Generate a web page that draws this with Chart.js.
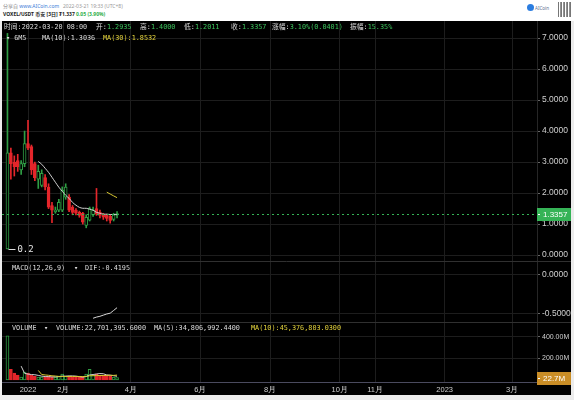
<!DOCTYPE html>
<html>
<head>
<meta charset="utf-8">
<script src="https://cdn.jsdelivr.net/npm/chart.js@4.4.1/dist/chart.umd.min.js"></script>
<style>
  body { margin: 0; width: 574px; height: 400px; background: #ececec; position: relative; overflow: hidden; }
  #head { position: absolute; left: 0; top: 0; width: 574px; height: 21px; background: #fff; font-family: "Noto Sans", "Noto Sans CJK SC", sans-serif; }
  #board { position: absolute; left: 2px; top: 21px; width: 569px; height: 374px; background: #000; }
  #board canvas { position: absolute; left: 0; }
  .lg { position: absolute; white-space: nowrap; font-family: "DejaVu Sans Mono", "Noto Sans CJK SC", monospace; font-size: 6.8px; line-height: 8px; color: #dcdcdc; }
  .g { color: #3cc35c; }
  .y { color: #e3d23c; }
  .hd { position: absolute; white-space: nowrap; font-size: 5px; line-height: 6px; color: #888; }
</style>
</head>
<body>
<div id="head">
  <div class="hd" style="left:3px;top:3px">分享自 <span style="color:#3b7bd8">www.AICoin.com</span></div>
  <div class="hd" style="left:63px;top:3px;color:#999">2022-03-21 19:33 (UTC+8)</div>
  <div class="hd" style="left:3px;top:11px;color:#222;font-weight:bold">VOXEL/USDT 币安 [3日] ₮1.337 <span style="color:#2fae4a">0.05 (3.90%)</span></div>
  <div style="position:absolute;left:527px;top:4px;width:7px;height:7px;border-radius:50%;background:#2b7de0"></div>
  <div class="hd" style="left:535px;top:5px;font-size:4.5px;color:#5a6f90">AICoin</div>
  <div style="position:absolute;left:558px;top:2px;width:13px;height:15px;background:repeating-linear-gradient(90deg,#555 0 1px,#fff 1px 2px,#777 2px 3px),#888;opacity:0.8"></div>
</div>
<div id="board">
  <canvas id="priceChart" width="569" height="240" style="top:0"></canvas>
  <canvas id="macdChart" width="569" height="61" style="top:240px"></canvas>
  <canvas id="volumeChart" width="569" height="73" style="top:301px"></canvas>

  <div class="lg" style="left:2px;top:2px">时间:2022-03-20 08:00</div>
  <div class="lg" style="left:94px;top:2px">开:<span class="g">1.2935</span></div>
  <div class="lg" style="left:138px;top:2px">高:<span class="g">1.4000</span></div>
  <div class="lg" style="left:182px;top:2px">低:<span class="g">1.2011</span></div>
  <div class="lg" style="left:229px;top:2px">收:<span class="g">1.3357</span></div>
  <div class="lg" style="left:270px;top:2px">涨幅:<span class="g">3.10%(0.0401)</span></div>
  <div class="lg" style="left:348px;top:2px">振幅:<span class="g">15.35%</span></div>

  <div class="lg" style="left:4px;top:13px">▾ 6M5</div>
  <div class="lg" style="left:40px;top:13px">MA(10):1.3036</div>
  <div class="lg y" style="left:101px;top:13px">MA(30):1.8532</div>

  <div class="lg" style="left:10px;top:243px">MACD(12,26,9)</div>
  <div class="lg" style="left:72px;top:243px">▾</div>
  <div class="lg" style="left:83px;top:243px">DIF:-0.4195</div>

  <div class="lg" style="left:10px;top:303px">VOLUME</div>
  <div class="lg" style="left:42px;top:303px">▾</div>
  <div class="lg" style="left:54px;top:303px">VOLUME:22,701,395.6000</div>
  <div class="lg" style="left:152px;top:303px">MA(5):34,806,992.4400</div>
  <div class="lg y" style="left:249px;top:303px">MA(10):45,376,803.0300</div>
</div>

<script>
// 3-day candles, VOXEL/USDT
const candleDates = [
  "2021-12-14", "2021-12-17", "2021-12-20", "2021-12-23", "2021-12-26", "2021-12-29",
  "2022-01-01", "2022-01-04", "2022-01-07", "2022-01-10", "2022-01-13", "2022-01-16",
  "2022-01-19", "2022-01-22", "2022-01-25", "2022-01-28", "2022-01-31", "2022-02-03",
  "2022-02-06", "2022-02-09", "2022-02-12", "2022-02-15", "2022-02-18", "2022-02-21",
  "2022-02-24", "2022-02-27", "2022-03-02", "2022-03-05", "2022-03-08", "2022-03-11",
  "2022-03-14", "2022-03-17", "2022-03-20"
];
const opens = [0.2, 3.3, 3.0, 3.05, 2.75, 2.95, 3.6, 3.5, 2.95, 2.45, 2.25, 2.5, 2.19, 1.6, 1.4, 1.45, 1.45,
  1.87, 1.87, 1.55, 1.45, 1.38, 1.35, 0.96, 1.13, 1.3, 1.5, 1.38, 1.3, 1.28, 1.25, 1.15, 1.2935];
const highs = [7.15, 3.45, 3.2, 3.25, 3.05, 4.0, 4.35, 3.55, 3.0, 2.9, 2.75, 2.6, 2.3, 1.7, 1.55, 1.8, 2.2,
  2.3, 1.95, 1.6, 1.5, 1.42, 1.38, 1.3, 1.55, 1.55, 2.15, 1.45, 1.35, 1.32, 1.3, 1.35, 1.4];
const lows = [0.2, 2.45, 2.55, 2.7, 2.6, 2.85, 3.4, 2.6, 2.4, 2.15, 2.2, 2.1, 1.5, 1.05, 1.35, 1.4, 1.4,
  1.8, 1.4, 1.3, 1.3, 1.22, 1.0, 0.88, 1.1, 1.25, 1.28, 1.2, 1.15, 1.1, 1.03, 1.1, 1.2011];
const closes = [3.3, 2.95, 2.85, 2.85, 2.95, 3.6, 3.45, 2.75, 2.5, 2.7, 2.64, 2.2, 1.55, 1.45, 1.45, 1.7, 2.09,
  2.19, 1.45, 1.38, 1.35, 1.28, 1.06, 1.22, 1.5, 1.45, 1.32, 1.28, 1.22, 1.18, 1.12, 1.3, 1.3357];

const ma10 = [null, null, null, null, null, null, null, null, null,
  3.02, 2.93, 2.8, 2.67, 2.51, 2.35, 2.19, 2.06, 1.93, 1.83, 1.7, 1.61, 1.54, 1.51, 1.51,
  1.48, 1.45, 1.38, 1.35, 1.32, 1.32, 1.31, 1.31, 1.3036];
const ma30 = [null, null, null, null, null, null, null, null, null, null, null, null, null, null, null,
  null, null, null, null, null, null, null, null, null, null, null, null, null, null,
  2.03, 1.97, 1.91, 1.8532];

const macdDif = [null, null, null, null, null, null, null, null, null, null, null, null, null,
  null, null, null, null, null, null, null, null, null, null, null, null,
  -0.555, -0.54, -0.53, -0.515, -0.5, -0.49, -0.455, -0.4195];

// volume in millions
const volumes = [410, 100, 64, 45, 27, 73, 64, 45, 36, 27, 27, 27, 36, 27, 27, 36, 55,
  36, 36, 27, 27, 27, 27, 55, 100, 45, 55, 45, 45, 45, 36, 27, 22.7];
const volMa5 = [null, null, null, null,
  129, 62, 55, 51, 49, 43, 36, 32, 31, 29, 29, 31, 36, 36, 38, 38, 36, 31, 27, 33,
  47, 51, 56, 60, 58, 47, 45, 40, 34.8];
const volMa10 = [null, null, null, null, null, null, null, null, null,
  89, 51, 47, 44, 39, 37, 33, 33, 32, 33, 33, 33, 33, 32, 33, 39, 40, 41, 42, 42, 43, 44, 43, 45.4];

const monthTickDates = ["2022-01-01", "2022-02-01", "2022-04-01", "2022-06-01", "2022-08-01",
  "2022-10-01", "2022-11-01", "2023-01-01", "2023-03-01"];
const monthTickLabels = ["2022", "2月", "4月", "6月", "8月", "10月", "11月", "2023", "3月"];
const priceTicks = [0, 1, 2, 3, 4, 5, 6, 7];
const macdTicks = [0, -0.5];
const volumeTicks = [200, 400];

const GREEN = "#2f9e44";
const RED = "#e5262b";
const GRID = "#1d1d1d";

const toDay = (s) => {
  const [y, m, d] = s.split("-").map(Number);
  return (Date.UTC(y, m - 1, d) - Date.UTC(2022, 0, 1)) / 86400000;
};
const days = candleDates.map(toDay);
const monthDays = monthTickDates.map(toDay);
const isUp = closes.map((c, i) => c >= opens[i]);
const candleColors = isUp.map((u) => (u ? GREEN : RED));
const bodyFills = isUp.map((u) => (u ? "#000" : RED));
const pts = (arr) => arr.map((v, i) => ({ x: days[i], y: v }));

Chart.defaults.font.family = "Liberation Sans, Arial, sans-serif";

function xScale(showLabels) {
  return {
    type: "linear",
    min: -22.78,
    max: 445.9,
    offset: false,
    afterBuildTicks: (s) => { s.ticks = monthDays.map((v) => ({ value: v })); },
    afterFit: (s) => {
      if (!showLabels) s.height = 0; else s.height = 13;
      s.paddingLeft = 0; s.paddingRight = 0;
    },
    grid: { color: GRID, drawTicks: false, offset: false },
    border: { display: showLabels, color: "#4a4a5e" },
    ticks: {
      display: showLabels, color: "#cfcfcf", padding: 3, maxRotation: 0, autoSkip: false,
      font: { size: 7.5 },
      callback: (v, i) => monthTickLabels[i]
    }
  };
}

function yScale(min, max, ticks, fmt, fontSize) {
  return {
    position: "right",
    min: min,
    max: max,
    afterBuildTicks: (s) => { s.ticks = ticks.map((v) => ({ value: v })); },
    afterFit: (s) => { s.width = 34; s.paddingTop = 0; s.paddingBottom = 0; },
    grid: { color: GRID, tickColor: "#666", tickLength: 3 },
    border: { color: "#262626" },
    ticks: { color: "#d0d0d0", padding: 2, font: { size: fontSize }, callback: fmt }
  };
}

// price tag on the right axis, optional dotted line across the plot
const tagPlugin = {
  id: "tag",
  afterDraw(chart, args, opts) {
    if (!opts || opts.value === undefined) return;
    const { ctx, chartArea, scales } = chart;
    const y = Math.round(scales.y.getPixelForValue(opts.value)) + 0.5;
    ctx.save();
    if (opts.dash) {
      ctx.strokeStyle = opts.color;
      ctx.lineWidth = 1;
      ctx.setLineDash([2, 3]);
      ctx.beginPath();
      ctx.moveTo(chartArea.left, y);
      ctx.lineTo(chartArea.right, y);
      ctx.stroke();
      ctx.setLineDash([]);
    }
    ctx.fillStyle = opts.color;
    ctx.fillRect(chartArea.right, y - 6.5, chart.width - chartArea.right, 13);
    ctx.strokeStyle = "#fff";
    ctx.beginPath();
    ctx.moveTo(chartArea.right + 1, y);
    ctx.lineTo(chartArea.right + 3, y);
    ctx.stroke();
    ctx.fillStyle = "#fff";
    ctx.font = "8px Liberation Sans, Arial, sans-serif";
    ctx.textBaseline = "middle";
    ctx.fillText(opts.text, chartArea.right + 6, y + 0.5);
    ctx.restore();
  }
};

// lowest low marker
const lowMarkPlugin = {
  id: "lowMark",
  afterDatasetsDraw(chart) {
    if (chart.canvas.id !== "priceChart") return;
    const { ctx, scales } = chart;
    let idx = 0;
    lows.forEach((v, i) => { if (v < lows[idx]) idx = i; });
    const x = scales.x.getPixelForValue(days[idx]);
    const y = Math.round(scales.y.getPixelForValue(lows[idx])) + 0.5;
    ctx.save();
    ctx.strokeStyle = "#ddd";
    ctx.beginPath();
    ctx.moveTo(x + 1, y);
    ctx.lineTo(x + 8, y);
    ctx.stroke();
    ctx.fillStyle = "#e6e6e6";
    ctx.font = "9px DejaVu Sans Mono, monospace";
    ctx.textBaseline = "middle";
    ctx.fillText(String(lows[idx]), x + 10, y);
    ctx.restore();
  }
};

const paneTopPlugin = {
  id: "paneTop",
  afterDraw(chart) {
    if (chart.canvas.id === "priceChart") return;
    const { ctx, chartArea } = chart;
    ctx.save();
    ctx.strokeStyle = "#303030";
    ctx.beginPath();
    ctx.moveTo(0, chartArea.top + 0.5);
    ctx.lineTo(chart.width, chartArea.top + 0.5);
    ctx.stroke();
    ctx.restore();
  }
};

const baseOptions = {
  responsive: false,
  animation: false,
  layout: { padding: 0 },
  events: []
};

new Chart(document.getElementById("priceChart"), {
  type: "bar",
  data: {
    datasets: [
      {
        data: days.map((d, i) => ({ x: d, y: [lows[i], highs[i]] })),
        backgroundColor: candleColors,
        borderWidth: 0,
        barThickness: 1,
        grouped: false,
        order: 3
      },
      {
        data: days.map((d, i) => ({ x: d, y: [opens[i], closes[i]] })),
        backgroundColor: bodyFills,
        borderColor: candleColors,
        borderWidth: 1,
        borderSkipped: false,
        barThickness: 3,
        grouped: false,
        order: 2
      },
      {
        type: "line",
        data: pts(ma10),
        borderColor: "#d0d0d0",
        borderWidth: 1,
        pointRadius: 0,
        tension: 0.3,
        order: 1
      },
      {
        type: "line",
        data: pts(ma30),
        borderColor: "#d8c730",
        borderWidth: 1,
        pointRadius: 0,
        order: 0
      }
    ]
  },
  options: {
    ...baseOptions,
    plugins: {
      legend: { display: false },
      tooltip: { enabled: false },
      tag: { value: closes[closes.length - 1], text: closes[closes.length - 1].toFixed(4), color: "#35b356", dash: true }
    },
    scales: {
      x: xScale(false),
      y: yScale(-0.19, 7.55, priceTicks, (v) => v.toFixed(4), 8.5)
    }
  },
  plugins: [tagPlugin, lowMarkPlugin, paneTopPlugin]
});

new Chart(document.getElementById("macdChart"), {
  type: "line",
  data: {
    datasets: [
      {
        data: pts(macdDif),
        borderColor: "#d8d8d8",
        borderWidth: 1,
        pointRadius: 0
      }
    ]
  },
  options: {
    ...baseOptions,
    plugins: { legend: { display: false }, tooltip: { enabled: false } },
    scales: {
      x: xScale(false),
      y: yScale(-0.603, 0.179, macdTicks, (v) => v.toFixed(4), 8.5)
    }
  },
  plugins: [paneTopPlugin]
});

new Chart(document.getElementById("volumeChart"), {
  type: "bar",
  data: {
    datasets: [
      {
        data: pts(volumes),
        backgroundColor: bodyFills,
        borderColor: candleColors,
        borderWidth: 1,
        borderSkipped: false,
        barThickness: 3,
        grouped: false,
        order: 2
      },
      {
        type: "line",
        data: pts(volMa5),
        borderColor: "#d0d0d0",
        borderWidth: 1,
        pointRadius: 0,
        order: 1
      },
      {
        type: "line",
        data: pts(volMa10),
        borderColor: "#d8c730",
        borderWidth: 1,
        pointRadius: 0,
        order: 0
      }
    ]
  },
  options: {
    ...baseOptions,
    plugins: {
      legend: { display: false },
      tooltip: { enabled: false },
      tag: { value: volumes[volumes.length - 1], text: volumes[volumes.length - 1].toFixed(1) + "M", color: "#c98d26", dash: false }
    },
    scales: {
      x: xScale(true),
      y: yScale(-18.6, 539.5, volumeTicks, (v) => v.toFixed(2) + "M", 7)
    }
  },
  plugins: [tagPlugin, paneTopPlugin]
});
</script>
</body>
</html>
